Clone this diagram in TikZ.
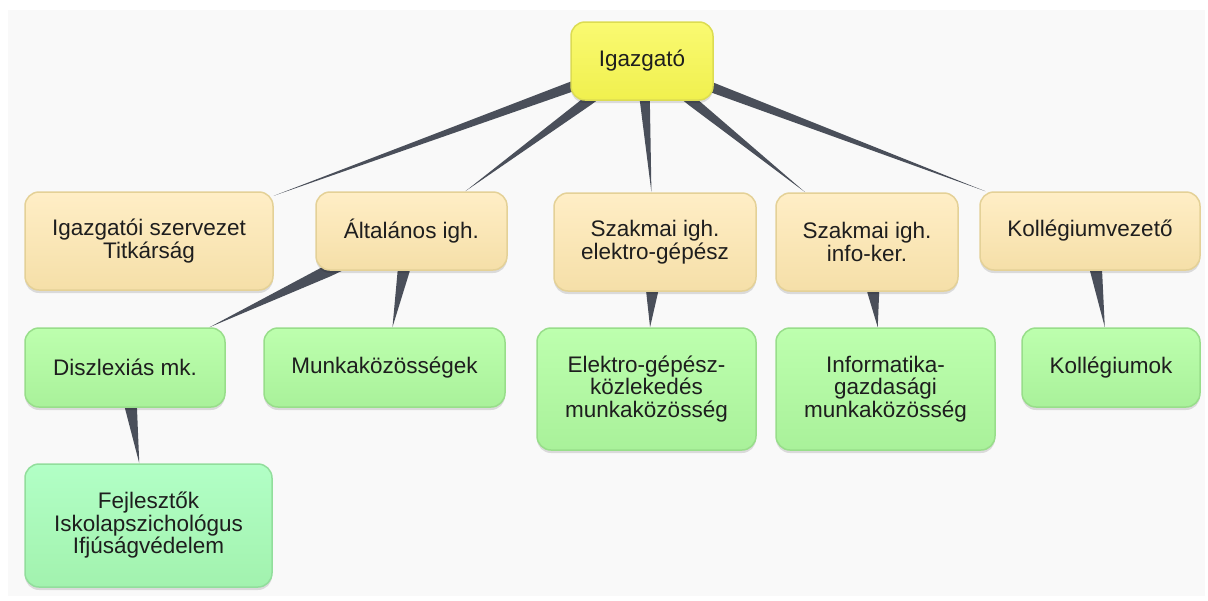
\documentclass[tikz,border=0pt]{standalone}
\usepackage{fontspec}
\setmainfont{Liberation Sans}
\usetikzlibrary{calc,shadows}
\pgfdeclarelayer{back}
\pgfdeclarelayer{edges}
\pgfsetlayers{back,edges,main}
\definecolor{bgc}{HTML}{F9F9F9}
\definecolor{txt}{HTML}{1E1E1E}
\definecolor{wcol}{HTML}{4A4F5A}
\definecolor{ytop}{HTML}{FAFA72}
\definecolor{ybot}{HTML}{F0F04E}
\definecolor{ybord}{HTML}{DCDC52}
\definecolor{otop}{HTML}{FFEEC6}
\definecolor{obot}{HTML}{F5DFA8}
\definecolor{obord}{HTML}{E4D197}
\definecolor{gtop}{HTML}{BDFFAE}
\definecolor{gbot}{HTML}{A9F19A}
\definecolor{gbord}{HTML}{98DE8A}
\definecolor{mtop}{HTML}{B2FFC6}
\definecolor{mbot}{HTML}{A2F2AE}
\definecolor{mbord}{HTML}{92DE9C}
\tikzset{
  box/.style={rounded corners=14pt, draw, line width=1.5pt, inner sep=0pt,
    align=center, font=\fontsize{22.5}{22.5}\selectfont, text=txt,
    drop shadow={shadow xshift=0pt, shadow yshift=-3pt, opacity=0.12, fill=black}},
  topbox/.style={box, draw=ybord, top color=ytop, bottom color=ybot},
  midbox/.style={box, draw=obord, top color=otop, bottom color=obot},
  leafbox/.style={box, draw=gbord, top color=gtop, bottom color=gbot},
  mintbox/.style={box, draw=mbord, top color=mtop, bottom color=mbot},
  wedgefill/.style={fill=wcol},
}
\newcommand\mywedge[3][6pt]{%
  \path (#2) -- (#3) coordinate[pos=0] (wB) coordinate[pos=1] (wT);
  \begin{pgfonlayer}{edges}
  \fill[wedgefill] ($(#2.center)!#1!90:(wT)$) -- ($(wB)!#1!90:(wT)$) -- (wT)
     -- ($(wB)!#1!-90:(wT)$) -- ($(#2.center)!#1!-90:(wT)$) -- cycle;
  \end{pgfonlayer}%
}
\begin{document}
\begin{tikzpicture}[x=1pt,y=-1pt]
\begin{pgfonlayer}{back}
\fill[white] (0,0) rectangle (1208,600);
\fill[bgc] (8,10) rectangle (1205,596);
\end{pgfonlayer}
\useasboundingbox (0,0) rectangle (1208,600);

\node[topbox, minimum width=142pt, minimum height=78pt] (igaz) at (642,61) {Igazgató};

\node[midbox, minimum width=248pt, minimum height=98pt] (titk) at (149,241) {Igazgatói szervezet\\Titkárság};
\node[midbox, minimum width=191pt, minimum height=78pt] (alt) at (411.5,231) {Általános igh.};
\node[midbox, minimum width=202pt, minimum height=98pt] (elek) at (655,242) {Szakmai igh.\\elektro-gépész};
\node[midbox, minimum width=182pt, minimum height=98pt] (info) at (867,242) {Szakmai igh.\\info-ker.};
\node[midbox, minimum width=220pt, minimum height=78pt] (kvez) at (1090,231) {Kollégiumvezető};

\node[leafbox, minimum width=200pt, minimum height=79pt] (disz) at (125,367.5) {Diszlexiás mk.};
\node[leafbox, minimum width=241pt, minimum height=79pt] (munk) at (384.5,367.5) {Munkaközösségek};
\node[leafbox, minimum width=219pt, minimum height=122pt] (ekoz) at (646.5,389) {Elektro-gépész-\\közlekedés\\munkaközösség};
\node[leafbox, minimum width=219pt, minimum height=122pt] (igaz2) at (885.5,389) {Informatika-\\gazdasági\\munkaközösség};
\node[leafbox, minimum width=178pt, minimum height=79pt] (kolk) at (1111,367.5) {Kollégiumok};

\node[mintbox, minimum width=247pt, minimum height=123pt] (fejl) at (148.5,525.5) {Fejlesztők\\Iskolapszichológus\\Ifjúságvédelem};

\mywedge[5pt]{igaz}{titk}
\mywedge[5pt]{igaz}{alt}
\mywedge[5pt]{igaz}{elek}
\mywedge[5pt]{igaz}{info}
\mywedge[5pt]{igaz}{kvez}
\mywedge{alt}{disz}
\mywedge{alt}{munk}
\mywedge{elek}{ekoz}
\mywedge{info}{igaz2}
\mywedge{kvez}{kolk}
\mywedge{disz}{fejl}
\end{tikzpicture}
\end{document}
